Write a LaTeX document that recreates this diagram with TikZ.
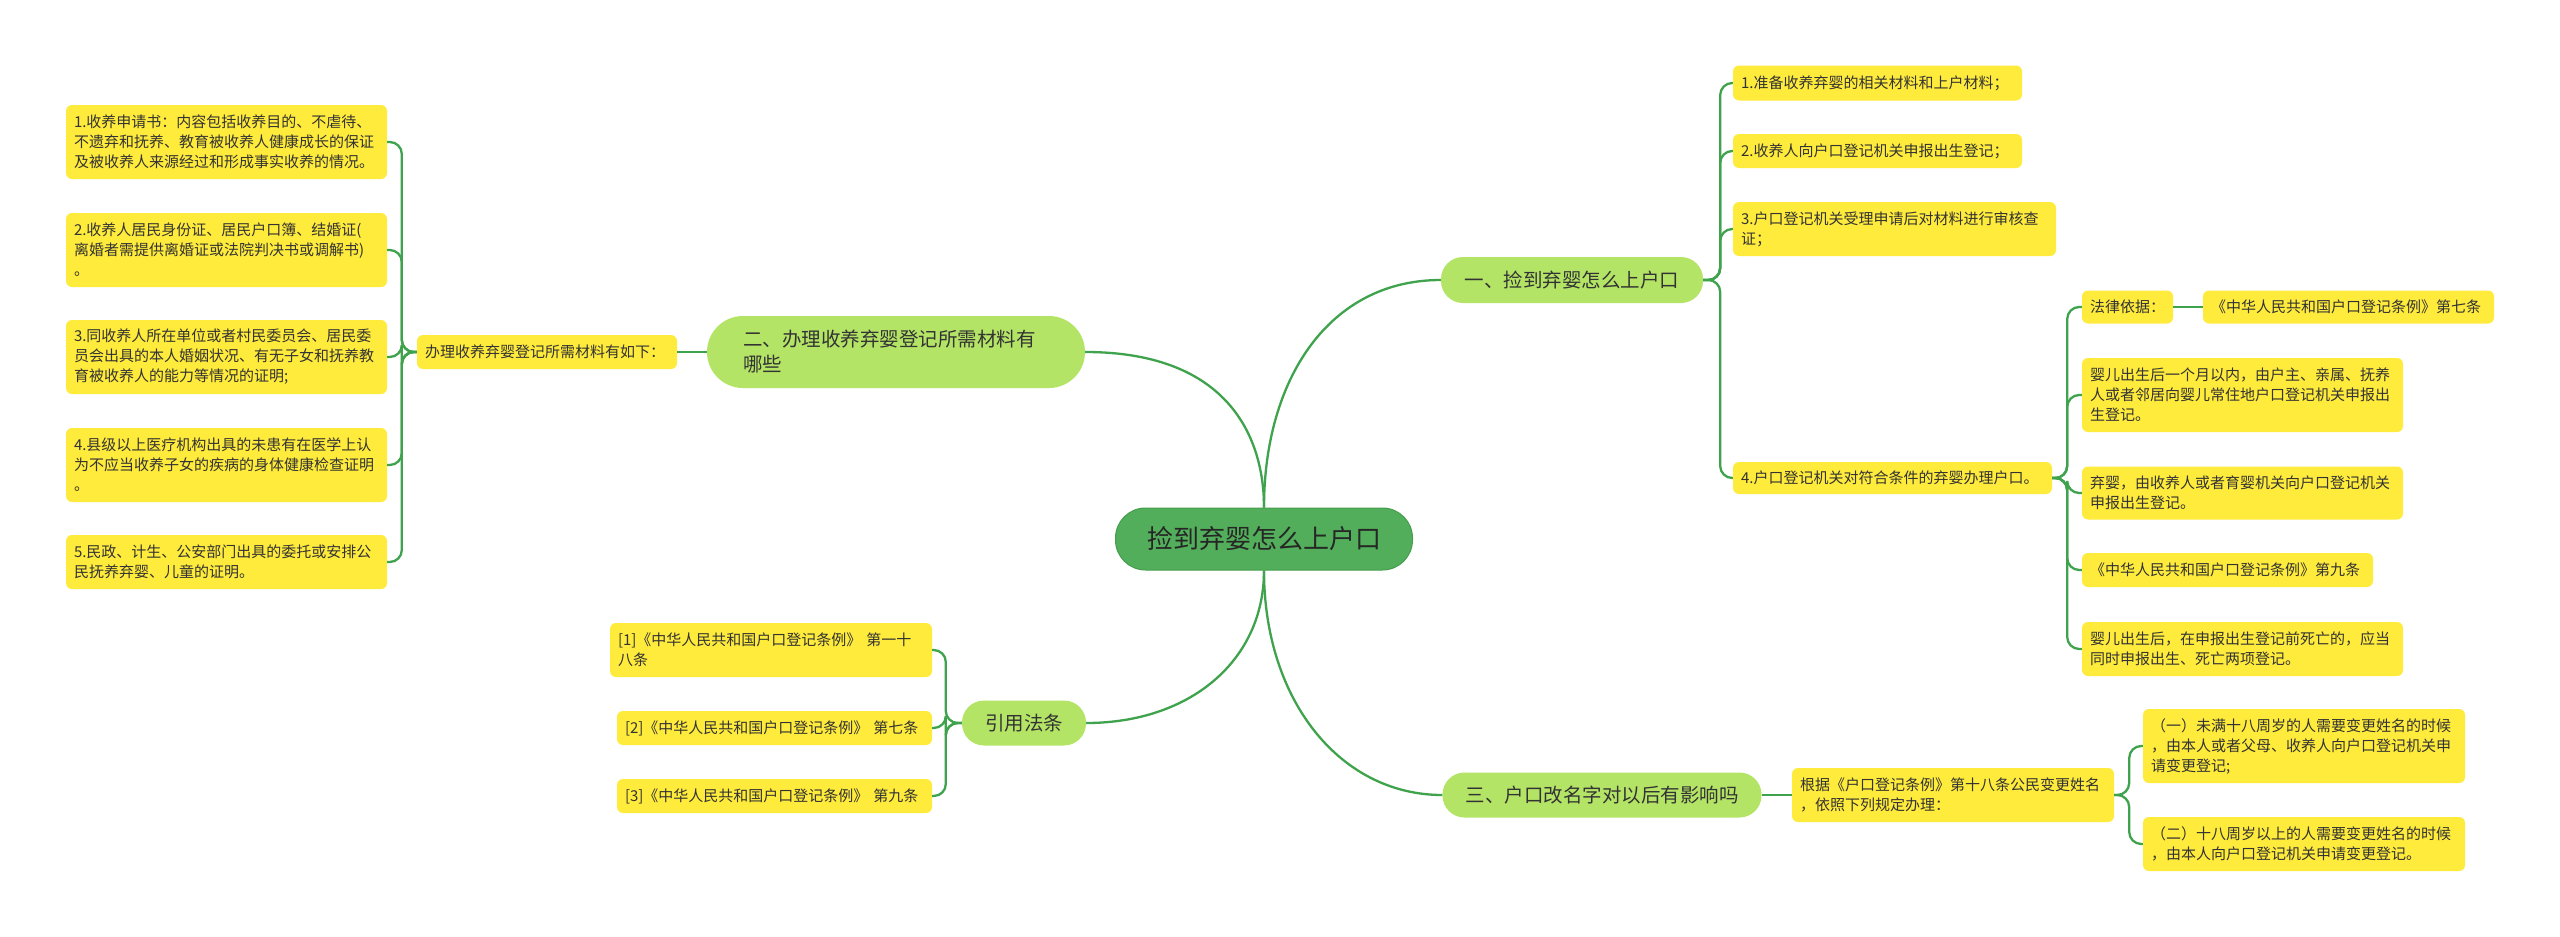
\documentclass[tikz,border=0pt]{standalone}
\usepackage{fontspec}
\setmainfont{Noto Sans CJK SC}
\definecolor{leafy}{HTML}{FFEB3B}
\definecolor{brg}{HTML}{B4E466}
\definecolor{rootg}{HTML}{52AE5A}
\definecolor{rootd}{HTML}{449E4C}
\definecolor{lineg}{HTML}{3FA34D}
\definecolor{txt}{HTML}{333333}
\begin{document}
\begin{tikzpicture}[x=1pt,y=-1pt,
  link/.style={draw=lineg, line width=2.3pt},
  elbow/.style={draw=lineg, line width=2.3pt, rounded corners=12pt},
  leaf/.style={fill=leafy, rounded corners=6pt, inner xsep=8pt, inner ysep=0pt,
    align=left, text=txt, text width=#1pt, font=\fontsize{15}{20}\selectfont},
  branch/.style={fill=brg, rounded corners=22pt, inner sep=0pt, text=txt,
    font=\fontsize{19.5}{25}\selectfont},
  rootnode/.style={fill=rootg, draw=rootd, line width=1pt, rounded corners=30pt,
    minimum width=297pt, minimum height=62pt, inner sep=0pt,
    text=black!85, font=\fontsize{26}{30}\selectfont}]
\useasboundingbox (0,0) rectangle (2560,937);
\fill[white] (0,0) rectangle (2560,937);

% root and main branches
\node[rootnode] (root) at (1264,539) {捡到弃婴怎么上户口};
\node[branch, minimum width=262pt, minimum height=46pt] (n1) at (1572,280) {一、捡到弃婴怎么上户口};
\node[branch, text width=306pt, align=left, inner xsep=36pt, minimum height=72pt, rounded corners=36pt] (n2) at (896,352) {二、办理收养弃婴登记所需材料有\\哪些};
\node[branch, minimum width=319pt, minimum height=45pt] (n3) at (1602,795) {三、户口改名字对以后有影响吗};
\node[branch, minimum width=124pt, minimum height=45pt] (n4) at (1024,723) {引用法条};

% left leaves
\node[leaf=244, minimum height=34pt] (L0) at (547,352) {办理收养弃婴登记所需材料有如下：};
\node[leaf=305, minimum height=74pt] (L1) at (226.5,142) {1.收养申请书：内容包括收养目的、不虐待、\\不遗弃和抚养、教育被收养人健康成长的保证\\及被收养人来源经过和形成事实收养的情况。};
\node[leaf=305, minimum height=74pt] (L2) at (226.5,250) {2.收养人居民身份证、居民户口簿、结婚证(\\离婚者需提供离婚证或法院判决书或调解书)\\。};
\node[leaf=305, minimum height=74pt] (L3) at (226.5,357) {3.同收养人所在单位或者村民委员会、居民委\\员会出具的本人婚姻状况、有无子女和抚养教\\育被收养人的能力等情况的证明;};
\node[leaf=305, minimum height=74pt] (L4) at (226.5,465) {4.县级以上医疗机构出具的未患有在医学上认\\为不应当收养子女的疾病的身体健康检查证明\\。};
\node[leaf=305, minimum height=54pt] (L5) at (226.5,562) {5.民政、计生、公安部门出具的委托或安排公\\民抚养弃婴、儿童的证明。};

% right-top leaves
\node[leaf=273, minimum height=35pt] (R1) at (1877.5,83) {1.准备收养弃婴的相关材料和上户材料；};
\node[leaf=273, minimum height=34pt] (R2) at (1877.5,151) {2.收养人向户口登记机关申报出生登记；};
\node[leaf=307, minimum height=54pt] (R3) at (1894.5,229) {3.户口登记机关受理申请后对材料进行审核查\\证；};
\node[leaf=303, minimum height=32pt] (R4) at (1892.5,478) {4.户口登记机关对符合条件的弃婴办理户口。};

\node[leaf=75, minimum height=33pt] (F1) at (2127.5,307) {法律依据：};
\node[leaf=275, minimum height=33pt] (F2) at (2348.5,307) {《中华人民共和国户口登记条例》第七条};
\node[leaf=305, minimum height=74pt] (C2) at (2242.5,395) {婴儿出生后一个月以内，由户主、亲属、抚养\\人或者邻居向婴儿常住地户口登记机关申报出\\生登记。};
\node[leaf=305, minimum height=53pt] (C3) at (2242.5,493) {弃婴，由收养人或者育婴机关向户口登记机关\\申报出生登记。};
\node[leaf=275, minimum height=34pt] (C4) at (2227.5,570) {《中华人民共和国户口登记条例》第九条};
\node[leaf=305, minimum height=54pt] (C5) at (2242.5,649) {婴儿出生后，在申报出生登记前死亡的，应当\\同时申报出生、死亡两项登记。};

% bottom-right leaves
\node[leaf=306, minimum height=54pt] (B0) at (1953,795) {根据《户口登记条例》第十八条公民变更姓名\\，依照下列规定办理：};
\node[leaf=306, minimum height=74pt] (B1) at (2304,746) {（一）未满十八周岁的人需要变更姓名的时候\\，由本人或者父母、收养人向户口登记机关申\\请变更登记;};
\node[leaf=306, minimum height=54pt] (B2) at (2304,844) {（二）十八周岁以上的人需要变更姓名的时候\\，由本人向户口登记机关申请变更登记。};

% bottom-left leaves
\node[leaf=306, minimum height=54pt] (Q1) at (771,650) {[1]《中华人民共和国户口登记条例》 第一十\\八条};
\node[leaf=299, minimum height=34pt] (Q2) at (774.5,728) {[2]《中华人民共和国户口登记条例》 第七条};
\node[leaf=299, minimum height=34pt] (Q3) at (774.5,796) {[3]《中华人民共和国户口登记条例》 第九条};

% root connectors
\draw[link] (root.north) .. controls +(0,-128) and +(-112,0) .. (n1.west);
\draw[link] (root.north) .. controls +(0,-68) and +(145,0) .. (n2.east);
\draw[link] (root.south) .. controls +(0,90) and +(104,0) .. (n4.east);
\draw[link] (root.south) .. controls +(0,130) and +(-102,0) .. (n3.west);

% straight links
\draw[link] (n2.west) -- (L0.east);
\draw[link] (n3.east) -- (B0.west);
\draw[link] (F1.east) -- (F2.west);

% brackets
\foreach \c in {L1,L2,L3,L4,L5} \draw[elbow] (L0.west) -- ++(-15,0) |- (\c.east);
\foreach \c in {R1,R2,R3,R4} \draw[elbow] (n1.east) -- ++(17,0) |- (\c.west);
\foreach \c in {F1,C2,C3,C4,C5} \draw[elbow] (R4.east) -- ++(15,0) |- (\c.west);
\foreach \c in {B1,B2} \draw[elbow] (B0.east) -- ++(15,0) |- (\c.west);
\foreach \c in {Q1,Q2,Q3} \draw[elbow] (n4.west) -- ++(-16,0) |- (\c.east);
\end{tikzpicture}
\end{document}
